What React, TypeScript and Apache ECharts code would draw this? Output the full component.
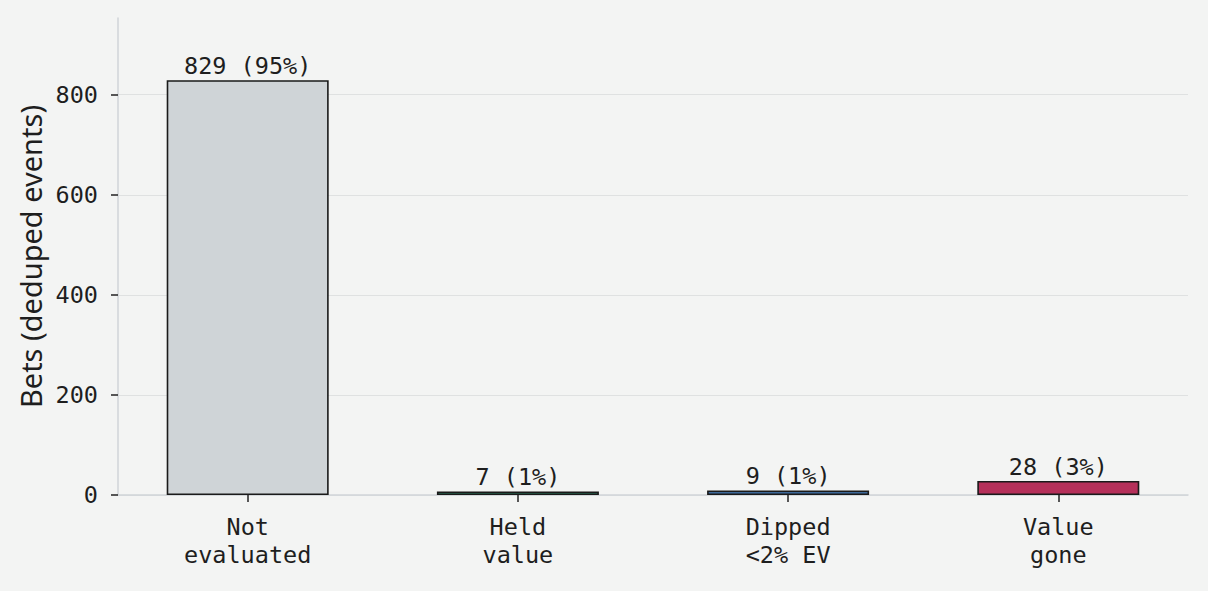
import React, { useEffect, useRef } from "react";
import * as echarts from "echarts";

const categories = ["Not\nevaluated", "Held\nvalue", "Dipped\n<2% EV", "Value\ngone"];
const counts = [829, 7, 9, 28];
const percents = [95, 1, 1, 3];
const barColors = ["#cfd4d7", "#2b7d5e", "#3d6899", "#b5305a"];
const yTicks = [0, 200, 400, 600, 800];
const xTicks = [0, 1, 2, 3];

const MONO = "'DejaVu Sans Mono', monospace";
const SANS = "'Noto Sans', sans-serif";

export default function App() {
  const ref = useRef<HTMLDivElement>(null);
  useEffect(() => {
    const chart = echarts.init(ref.current!, null, { renderer: "svg" });
    chart.setOption({
      animation: false,
      backgroundColor: "#f3f4f3",
      grid: { left: 118, right: 20, top: 18, bottom: 96 },
      xAxis: {
        type: "value",
        min: -0.48,
        max: 3.48,
        axisLine: { show: true, onZero: false, lineStyle: { color: "#d0d4d8", width: 1.5 } },
        axisTick: { show: true, customValues: xTicks, length: 7, lineStyle: { color: "#222", width: 1.5 } },
        axisLabel: {
          customValues: xTicks,
          formatter: (v: number) => categories[Math.round(v)] ?? "",
          fontFamily: MONO,
          fontSize: 23.5,
          color: "#1e1e1e",
          lineHeight: 28,
          margin: 18,
        },
        splitLine: { show: false },
      },
      yAxis: {
        type: "value",
        min: 0,
        max: 953.35,
        name: "Bets (deduped events)",
        nameLocation: "middle",
        nameGap: 71,
        nameTextStyle: { fontFamily: SANS, fontSize: 29, color: "#1e1e1e" },
        axisLine: { show: true, onZero: false, lineStyle: { color: "#d0d4d8", width: 1.5 } },
        axisTick: { show: true, customValues: yTicks, length: 7, lineStyle: { color: "#222", width: 1.5 } },
        axisLabel: {
          customValues: yTicks,
          fontFamily: MONO,
          fontSize: 23.5,
          color: "#1e1e1e",
          margin: 20,
        },
        splitLine: { show: true, lineStyle: { color: "#dfe1e1", width: 1 } },
      },
      series: [
        {
          type: "bar",
          barWidth: 162,
          data: counts.map((c, i) => ({
            value: [i, c],
            itemStyle: { color: barColors[i], borderColor: "#1a1a1a", borderWidth: 1.6 },
          })),
          label: {
            show: true,
            position: "top",
            distance: 2,
            fontFamily: MONO,
            fontSize: 23.5,
            color: "#1e1e1e",
            formatter: (p: any) => `${counts[p.dataIndex]} (${percents[p.dataIndex]}%)`,
          },
        },
      ],
    });
    return () => chart.dispose();
  }, []);
  return <div ref={ref} style={{ position: "fixed", left: 0, top: 0, width: 1208, height: 591 }} />;
}
